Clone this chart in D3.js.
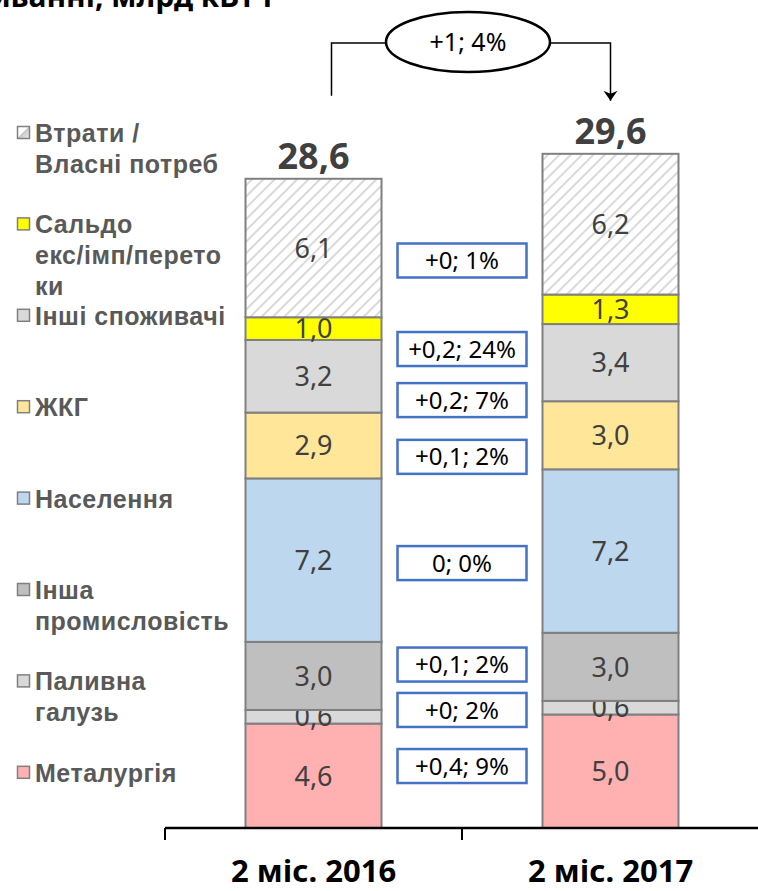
<!DOCTYPE html>
<html>
<head>
<meta charset="utf-8">
<script src="https://cdn.jsdelivr.net/npm/d3@7"></script>
<style>
  html, body { margin: 0; padding: 0; background: #fff; }
  svg { display: block; }
</style>
</head>
<body>
<svg id="chart" width="758" height="891"></svg>
<script>
const categories = ['2 міс. 2016', '2 міс. 2017'];
const seriesKeys = ['met', 'fuel', 'ind', 'pop', 'hcs', 'other', 'saldo', 'loss'];
const values2016 = [4.6, 0.6, 3.0, 7.2, 2.9, 3.2, 1.0, 6.1];
const values2017 = [5.0, 0.6, 3.0, 7.2, 3.0, 3.4, 1.3, 6.2];
const totals = [28.6, 29.6];
const totalChange = '+1; 4%';
const changeLabels = ['+0,4; 9%', '+0; 2%', '+0,1; 2%', '0; 0%', '+0,1; 2%', '+0,2; 7%', '+0,2; 24%', '+0; 1%'];
const changeLevels = [2.73, 5.2, 7.2, 11.67, 16.35, 18.85, 21.1, 25.0];
const legendLines = [
  ['Втрати /', 'Власні потреб'],
  ['Сальдо', 'екс/імп/перето', 'ки'],
  ['Інші споживачі'],
  ['ЖКГ'],
  ['Населення'],
  ['Інша', 'промисловість'],
  ['Паливна', 'галузь'],
  ['Металургія']
];
const colors = {
  met: '#ffb0b0', fuel: '#d9d9d9', ind: '#bfbfbf', pop: '#bdd7ee',
  hcs: '#ffe699', other: '#d9d9d9', saldo: '#ffff00', loss: 'url(#hatch)'
};

const svg = d3.select('#chart');
const fmt = d3.formatLocale({ decimal: ',', thousands: ' ', grouping: [3], currency: ['', ''] }).format('.1f');

const table = categories.map((c, i) => {
  const row = { cat: c };
  const vals = i === 0 ? values2016 : values2017;
  seriesKeys.forEach((k, j) => (row[k] = vals[j]));
  return row;
});

const x = d3.scaleBand().domain(categories).range([165, 759]).paddingInner(0).paddingOuter(0);
const y = d3.scaleLinear().domain([0, 30]).range([828, 147]);
const barW = 136;

// hatch for losses
const defs = svg.append('defs');
const pat = defs.append('pattern')
  .attr('id', 'hatch')
  .attr('patternUnits', 'userSpaceOnUse')
  .attr('width', 8).attr('height', 8)
  .attr('patternTransform', 'rotate(45)');
pat.append('rect').attr('width', 8).attr('height', 8).attr('fill', '#fff');
pat.append('line').attr('x1', 0).attr('y1', 0).attr('x2', 0).attr('y2', 8)
  .attr('stroke', '#d9d9d9').attr('stroke-width', 4);

const legHatch = defs.append('linearGradient')
  .attr('id', 'leghatch').attr('x1', 0).attr('y1', 0).attr('x2', 1).attr('y2', 1);
legHatch.append('stop').attr('offset', '0%').attr('stop-color', '#fff');
legHatch.append('stop').attr('offset', '45%').attr('stop-color', '#fff');
legHatch.append('stop').attr('offset', '50%').attr('stop-color', '#c8c8c8');
legHatch.append('stop').attr('offset', '100%').attr('stop-color', '#eee');

// cut-off title
svg.append('text')
  .attr('x', 277).attr('y', 7)
  .attr('text-anchor', 'end')
  .attr('font-family', 'Noto Sans, sans-serif')
  .attr('font-weight', 'bold')
  .attr('font-size', 30)
  .attr('fill', '#000')
  .text('Структура електроспоживання, у споживанні, млрд кВт·г');

const stacked = d3.stack().keys(seriesKeys)(table);

const layer = svg.selectAll('g.layer').data(stacked).enter().append('g').attr('class', 'layer');

layer.selectAll('rect')
  .data((d) => d.map((p) => ({ key: d.key, p })))
  .enter().append('rect')
  .attr('x', (d) => x(d.p.data.cat) + (x.bandwidth() - barW) / 2)
  .attr('y', (d) => y(d.p[1]))
  .attr('width', barW)
  .attr('height', (d) => y(d.p[0]) - y(d.p[1]))
  .attr('fill', (d) => colors[d.key])
  .attr('stroke', '#808080')
  .attr('stroke-width', 2);

layer.selectAll('text')
  .data((d) => d.map((p) => ({ key: d.key, p })))
  .enter().append('text')
  .attr('x', (d) => x(d.p.data.cat) + x.bandwidth() / 2)
  .attr('y', (d) => y((d.p[0] + d.p[1]) / 2))
  .attr('dy', '0.36em')
  .attr('text-anchor', 'middle')
  .attr('font-family', 'Noto Sans, sans-serif')
  .attr('font-size', 27)
  .attr('fill', '#404040')
  .text((d) => fmt(d.p[1] - d.p[0]));

// totals
const tops = table.map((r) => d3.sum(seriesKeys, (k) => r[k]));
svg.selectAll('text.total').data(categories).enter().append('text')
  .attr('class', 'total')
  .attr('x', (c) => x(c) + x.bandwidth() / 2)
  .attr('y', (c, i) => y(tops[i]) - 10)
  .attr('text-anchor', 'middle')
  .attr('font-family', 'Noto Sans, sans-serif')
  .attr('font-weight', 'bold')
  .attr('font-size', 36)
  .attr('fill', '#404040')
  .text((c, i) => fmt(totals[i]));

// change boxes between bars
const midX = x(categories[1]);
const boxW = 129, boxH = 34;
const boxes = svg.selectAll('g.chg').data(changeLabels).enter().append('g').attr('class', 'chg');
boxes.append('rect')
  .attr('x', midX - boxW / 2)
  .attr('y', (d, i) => y(changeLevels[i]) - boxH / 2)
  .attr('width', boxW).attr('height', boxH)
  .attr('fill', '#fff')
  .attr('stroke', '#4472c4')
  .attr('stroke-width', 2.5);
boxes.append('text')
  .attr('x', midX)
  .attr('y', (d, i) => y(changeLevels[i]))
  .attr('dy', '0.36em')
  .attr('text-anchor', 'middle')
  .attr('font-family', 'Noto Sans, sans-serif')
  .attr('font-size', 24)
  .attr('fill', '#000')
  .text((d) => d);

// top bracket with total change
const x1 = x(categories[0]) + x.bandwidth() / 2 + 18;
const x2 = x(categories[1]) + x.bandwidth() / 2;
const bracketY = 43;
const ex = 468, rx = 82, ry = 30;
defs.append('marker')
  .attr('id', 'arrow')
  .attr('viewBox', '0 0 10 16')
  .attr('refX', 10).attr('refY', 8)
  .attr('markerWidth', 10).attr('markerHeight', 16)
  .attr('markerUnits', 'userSpaceOnUse')
  .attr('orient', 'auto')
  .append('path').attr('d', 'M0,1 L10,8 L0,15 L3,8 Z').attr('fill', '#000');

svg.append('path')
  .attr('d', `M${x1},${y(tops[0]) - 83} V${bracketY} H${ex - rx}`)
  .attr('fill', 'none').attr('stroke', '#000').attr('stroke-width', 1.5);
svg.append('path')
  .attr('d', `M${ex + rx},${bracketY} H${x2} V${y(tops[1]) - 53}`)
  .attr('fill', 'none').attr('stroke', '#000').attr('stroke-width', 1.5)
  .attr('marker-end', 'url(#arrow)');
svg.append('ellipse')
  .attr('cx', ex).attr('cy', bracketY - 1)
  .attr('rx', rx).attr('ry', ry)
  .attr('fill', '#fff').attr('stroke', '#000').attr('stroke-width', 2.5);
svg.append('text')
  .attr('x', ex).attr('y', bracketY - 1)
  .attr('dy', '0.36em')
  .attr('text-anchor', 'middle')
  .attr('font-family', 'Noto Sans, sans-serif')
  .attr('font-size', 25)
  .attr('fill', '#000')
  .text(totalChange);

// x axis
const axis = svg.append('g').attr('transform', `translate(0,${y(0)})`)
  .call(d3.axisBottom(x).tickSize(0).tickFormat(''));
axis.select('.domain').remove();
axis.append('line').attr('x1', 165).attr('x2', 760).attr('stroke', '#000').attr('stroke-width', 2.5);
[165, x(categories[1]), 759].forEach((t) => {
  axis.append('line').attr('x1', t).attr('x2', t).attr('y1', 0).attr('y2', 12)
    .attr('stroke', '#000').attr('stroke-width', 2);
});
axis.selectAll('.tick').append('text')
  .attr('y', 54)
  .attr('text-anchor', 'middle')
  .attr('font-family', 'Noto Sans, sans-serif')
  .attr('font-weight', 'bold')
  .attr('font-size', 31)
  .attr('fill', '#000')
  .text((d) => d);

// legend
const legendKeys = seriesKeys.slice().reverse();
const leg = svg.selectAll('g.leg').data(legendKeys).enter().append('g')
  .attr('class', 'leg')
  .attr('transform', (d, i) => `translate(0,${133 + i * 91.4})`);
leg.append('rect')
  .attr('x', 17.5).attr('y', -6.5)
  .attr('width', 12).attr('height', 12)
  .attr('fill', (d) => (d === 'loss' ? 'url(#leghatch)' : colors[d]))
  .attr('stroke', '#808080').attr('stroke-width', 1.5);
leg.each(function (d, i) {
  const t = d3.select(this).append('text')
    .attr('font-family', 'Liberation Sans, Arial, sans-serif')
    .attr('font-weight', 'bold')
    .attr('font-size', 25)
    .attr('letter-spacing', 0.5)
    .attr('fill', '#595959');
  legendLines[i].forEach((line, j) => {
    t.append('tspan').attr('x', 35).attr('y', 9 + j * 31).text(line);
  });
});
</script>
</body>
</html>
